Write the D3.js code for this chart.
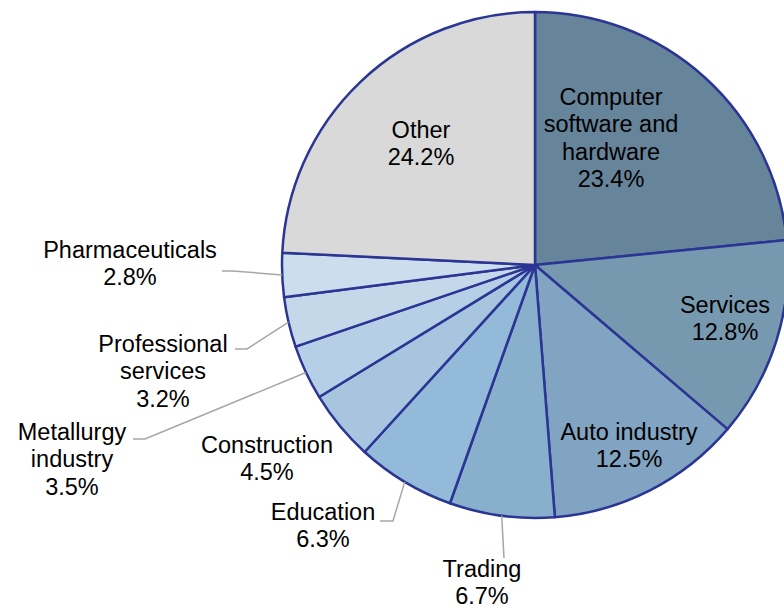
<!DOCTYPE html>
<html>
<head>
<meta charset="utf-8">
<script src="https://cdn.jsdelivr.net/npm/d3@7"></script>
<style>
  html, body { margin: 0; padding: 0; background: #ffffff; }
  svg { display: block; }
  text { font-family: "Liberation Sans", Arial, sans-serif; font-size: 23.5px; fill: #000; }
</style>
</head>
<body>
<svg id="chart" width="784" height="610"></svg>
<script>
// Share of companies by industry (%), clockwise from 12 o'clock
const categories = [
  "Computer software and hardware", "Services", "Auto industry", "Trading",
  "Education", "Construction", "Metallurgy industry", "Professional services",
  "Pharmaceuticals", "Other"
];
const values = [23.4, 12.8, 12.5, 6.7, 6.3, 4.5, 3.5, 3.2, 2.8, 24.2];
const valueLabels = ["23.4%", "12.8%", "12.5%", "6.7%", "6.3%", "4.5%", "3.5%", "3.2%", "2.8%", "24.2%"];
// Line breaks used for each category label
const labelLines = [
  ["Computer", "software and", "hardware"], ["Services"], ["Auto industry"], ["Trading"],
  ["Education"], ["Construction"], ["Metallurgy", "industry"], ["Professional", "services"],
  ["Pharmaceuticals"], ["Other"]
];
const colors = [
  "#66849a", "#7799b0", "#80a4c1", "#88afcb", "#93bad8",
  "#a7c5df", "#b7cfe6", "#c4d8ea", "#ccddee", "#d9d9d9"
];

// Layout: label anchor (centre x, first baseline y) and optional leader elbow
const labelLayout = [
  { x: 611, y: 105 },
  { x: 725, y: 313 },
  { x: 629, y: 440 },
  { x: 482, y: 577, leader: [[504, 558]] },
  { x: 323, y: 520, leader: [[380, 521], [393, 521]] },
  { x: 267, y: 453 },
  { x: 72,  y: 440, leader: [[133, 439], [145, 439]] },
  { x: 163, y: 352, leader: [[235, 349], [247, 349]] },
  { x: 130, y: 258, leader: [[222, 271], [233, 271]] },
  { x: 421, y: 138 }
];

const cx = 535, cy = 265, radius = 253, lineH = 27.3;
const svg = d3.select("#chart");
const g = svg.append("g").attr("transform", `translate(${cx},${cy})`);

const pie = d3.pie().sort(null).value(d => d.value);
const data = categories.map((c, i) => ({ name: c, value: values[i], i }));
const arcs = pie(data);
const arc = d3.arc().innerRadius(0).outerRadius(radius);

// Slices
g.selectAll("path.slice")
  .data(arcs)
  .join("path")
  .attr("class", "slice")
  .attr("d", arc)
  .attr("fill", d => colors[d.data.i])
  .attr("stroke", "#2b3594")
  .attr("stroke-width", 2.5)
  .attr("stroke-linejoin", "round");

// Leader lines from the outer edge at each slice's mid-angle
const edgePoint = d => {
  const a = (d.startAngle + d.endAngle) / 2;
  return [cx + radius * Math.sin(a), cy - radius * Math.cos(a)];
};
arcs.forEach(d => {
  const lay = labelLayout[d.data.i];
  if (!lay.leader) return;
  const pts = lay.leader.concat([edgePoint(d)]);
  svg.append("path")
    .attr("d", d3.line()(pts))
    .attr("fill", "none")
    .attr("stroke", "#a6a6a6")
    .attr("stroke-width", 1.5);
});

// Labels: category name lines followed by the percentage
arcs.forEach(d => {
  const i = d.data.i;
  const lay = labelLayout[i];
  const lines = labelLines[i].concat([valueLabels[i]]);
  const t = svg.append("text")
    .attr("text-anchor", "middle")
    .attr("x", lay.x)
    .attr("y", lay.y);
  lines.forEach((ln, k) => {
    t.append("tspan")
      .attr("x", lay.x)
      .attr("y", lay.y + k * lineH)
      .text(ln);
  });
});
</script>
</body>
</html>
